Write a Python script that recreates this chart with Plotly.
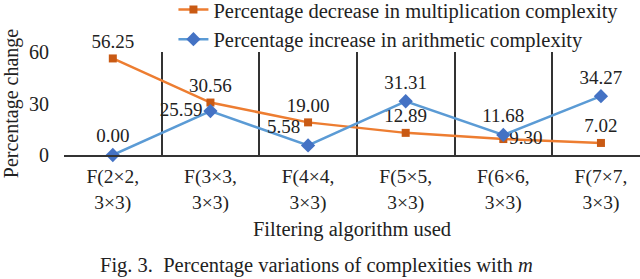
import plotly.graph_objects as go

categories = ["F(2×2,<br>3×3)", "F(3×3,<br>3×3)", "F(4×4,<br>3×3)",
              "F(5×5,<br>3×3)", "F(6×6,<br>3×3)", "F(7×7,<br>3×3)"]
decrease_mult = [56.25, 30.56, 19.00, 12.89, 9.30, 7.02]
increase_arith = [0.00, 25.59, 5.58, 31.31, 11.68, 34.27]
y_ticks = [0, 30, 60]

dec_pos = ["top center", "top center", "top center", "top center", "middle right", "top center"]
inc_pos = ["top center", "middle left", "top left", "top center", "top center", "top center"]

FONT = "Times New Roman, Liberation Serif, DejaVu Serif, serif"
TXT = "#222222"
ORANGE = "#ED7D31"
ORANGE_M = "#C95A14"
BLUE = "#5B9BD5"
BLUE_M = "#4472C4"

fig = go.Figure()
fig.add_trace(go.Scatter(
    x=categories, y=decrease_mult, mode="lines+markers+text",
    name="Percentage decrease in multiplication complexity",
    line=dict(color=ORANGE, width=2.5),
    marker=dict(symbol="square", size=8, color=ORANGE_M),
    text=[f"{v:.2f}" for v in decrease_mult], textposition=dec_pos,
    textfont=dict(family=FONT, size=19, color=TXT), cliponaxis=False,
))
fig.add_trace(go.Scatter(
    x=categories, y=increase_arith, mode="lines+markers+text",
    name="Percentage increase in arithmetic complexity",
    line=dict(color=BLUE, width=2.5),
    marker=dict(symbol="diamond", size=11, color=BLUE_M),
    text=[f"{v:.2f}" for v in increase_arith], textposition=inc_pos,
    textfont=dict(family=FONT, size=19, color=TXT), cliponaxis=False,
))

fig.update_layout(
    width=640, height=279,
    margin=dict(l=64, r=0, t=52, b=124, autoexpand=False),
    paper_bgcolor="white", plot_bgcolor="white",
    font=dict(family=FONT, size=19, color=TXT),
    showlegend=True,
    legend=dict(x=0.19, y=1.605, xanchor="left", yanchor="top",
                bgcolor="rgba(0,0,0,0)", font=dict(size=20.5, family=FONT, color=TXT),
                itemwidth=30, tracegroupgap=0),
    xaxis=dict(
        type="category", range=[-0.5, 5.40], tickson="boundaries", automargin=False,
        showgrid=True, gridcolor="#333333", gridwidth=1.5,
        showline=True, linecolor="#333333", linewidth=1.5,
        ticks="", tickfont=dict(size=19.5, family=FONT, color=TXT),
        ticklabelstandoff=3,
        title=dict(text="Filtering algorithm used", standoff=9,
                   font=dict(size=20.5, family=FONT, color=TXT)),
    ),
    yaxis=dict(
        range=[0, 60], tickvals=y_ticks, showgrid=False, zeroline=False, automargin=False,
        showline=False, ticks="", tickfont=dict(size=20, family=FONT, color=TXT),
        ticklabelstandoff=14,
        title=dict(text="Percentage change", standoff=6,
                   font=dict(size=20, family=FONT, color=TXT)),
    ),
    annotations=[dict(
        text="Fig. 3.&nbsp;&nbsp;Percentage variations of complexities with <i>m</i>",
        xref="paper", yref="paper", x=0.439, y=-1.072,
        xanchor="center", yanchor="middle", showarrow=False,
        font=dict(size=20.5, family=FONT, color=TXT),
    )],
)

fig.write_html("out.html", config={"displayModeBar": False},
               post_script="document.body.style.margin='0';")
